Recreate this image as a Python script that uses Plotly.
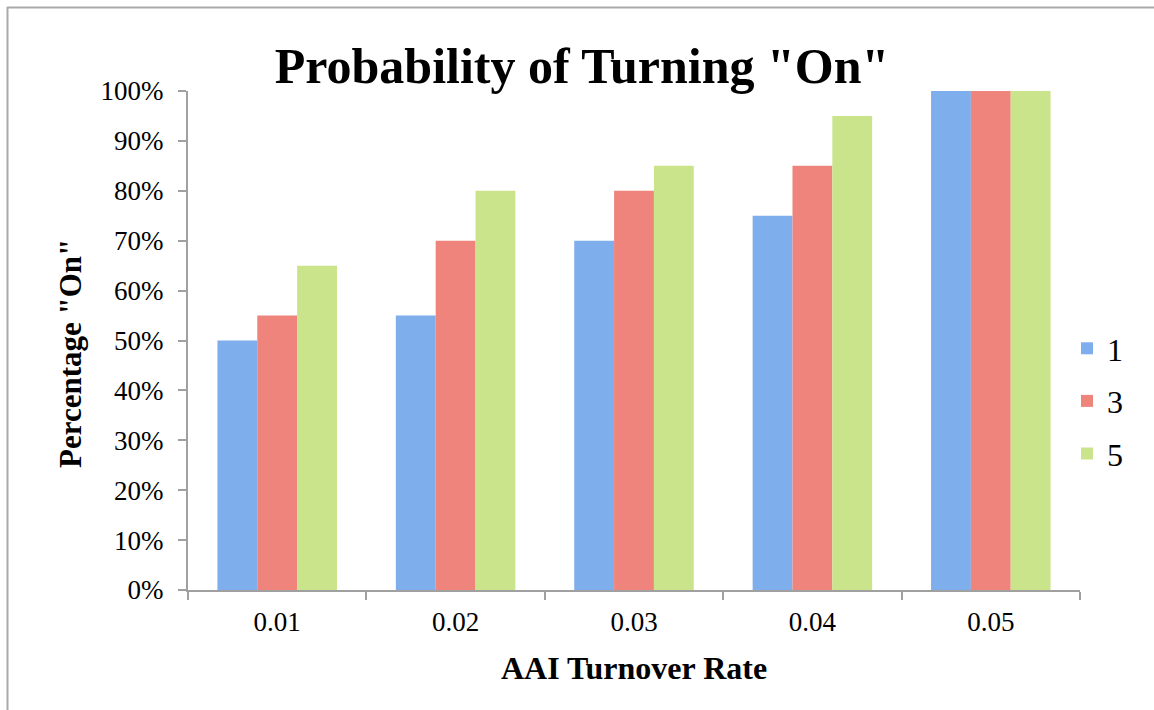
import plotly.graph_objects as go

categories = ["0.01", "0.02", "0.03", "0.04", "0.05"]
series_names = ["1", "3", "5"]
values_1 = [0.50, 0.55, 0.70, 0.75, 1.00]
values_3 = [0.55, 0.70, 0.80, 0.85, 1.00]
values_5 = [0.65, 0.80, 0.85, 0.95, 1.00]
colors = ["#7eaeec", "#ee847c", "#c9e48a"]

FONT = "Liberation Serif"
W, H = 1154, 710
ML, MR, MT, MB = 188, 74, 91, 120

fig = go.Figure()
for i, (name, vals) in enumerate(zip(series_names, [values_1, values_3, values_5])):
    fig.add_trace(go.Bar(
        x=categories, y=vals, name=name,
        marker=dict(color=colors[i], line=dict(width=0)),
        legendgroup=name,
    ))

pw = W - ML - MR
ph = H - MT - MB
# frame lines (top and left)
fig.add_shape(type="line", xref="paper", yref="paper",
              x0=(7 - ML) / pw, x1=(W - ML) / pw,
              y0=1 + (MT - 7.5) / ph, y1=1 + (MT - 7.5) / ph,
              line=dict(color="#aaaaaa", width=2))
fig.add_shape(type="line", xref="paper", yref="paper",
              x0=(7.5 - ML) / pw, x1=(7.5 - ML) / pw,
              y0=1 + (MT - 7) / ph, y1=-MB / ph,
              line=dict(color="#aaaaaa", width=2))

# axis titles as annotations
fig.add_annotation(text="<b>AAI Turnover Rate</b>", xref="paper", yref="paper",
                   x=0.5, y=-(668 - (MT + ph)) / ph, xanchor="center", yanchor="middle",
                   showarrow=False, font=dict(family=FONT, size=32, color="black"))
fig.add_annotation(text='<b>Percentage "On"</b>', xref="paper", yref="paper",
                   x=(70 - ML) / pw, y=(MT + ph - 354) / ph, xanchor="center", yanchor="middle",
                   textangle=-90, showarrow=False, font=dict(family=FONT, size=31, color="black"))

fig.update_layout(
    width=W, height=H,
    margin=dict(l=ML, r=MR, t=MT, b=MB),
    paper_bgcolor="white", plot_bgcolor="white",
    barmode="group", bargap=0.33, bargroupgap=0,
    font=dict(family=FONT, color="black"),
    title=dict(text='<b>Probability of Turning "On"</b>',
               font=dict(family=FONT, size=50, color="black"),
               x=582 / W, xanchor="center", xref="container",
               y=1 - 65 / H, yanchor="middle", yref="container"),
    xaxis=dict(
        type="category", showline=True, linecolor="#a0a0a0", linewidth=2,
        ticks="outside", ticklen=8, tickcolor="#a0a0a0", tickwidth=2,
        tickson="boundaries", showgrid=False, ticklabelstandoff=7,
        tickfont=dict(family=FONT, size=27),
    ),
    yaxis=dict(
        range=[0, 1.0], tickformat=".0%", dtick=0.1,
        showline=True, linecolor="#a0a0a0", linewidth=2,
        ticks="outside", ticklen=8, tickcolor="#a0a0a0", tickwidth=2,
        showgrid=False, zeroline=False, ticklabelstandoff=9,
        tickfont=dict(family=FONT, size=27),
    ),
    legend=dict(x=1.0 - 13 / pw, xanchor="left", y=(MT + ph - 401) / ph, yanchor="middle",
                font=dict(family=FONT, size=32), tracegroupgap=8,
                bgcolor="rgba(0,0,0,0)"),
    showlegend=True,
)

fig.write_html("out.html", config={"displayModeBar": False},
               post_script="document.body.style.margin='0';document.body.style.overflow='hidden';")
